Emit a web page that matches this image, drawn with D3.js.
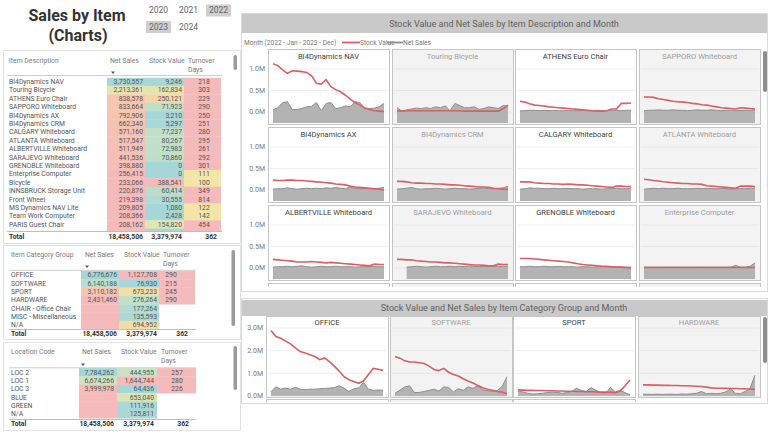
<!DOCTYPE html>
<html><head><meta charset="utf-8">
<script src="https://cdn.jsdelivr.net/npm/d3@7"></script>
<style>
body{margin:0;background:#fff;}
svg{display:block;font-family:Roboto,"Noto Sans",sans-serif;}
</style></head><body><svg id="c" width="768" height="438"></svg>
<script>
// ---------------- DATA ----------------
const years = ["2020","2021","2022","2023","2024"];
const selectedYears = ["2022","2023"];
const months = ["Jan 2022","Feb 2022","Mar 2022","Apr 2022","May 2022","Jun 2022","Jul 2022","Aug 2022","Sep 2022","Oct 2022","Nov 2022","Dec 2022",
                "Jan 2023","Feb 2023","Mar 2023","Apr 2023","May 2023","Jun 2023","Jul 2023","Aug 2023","Sep 2023","Oct 2023","Nov 2023","Dec 2023"];

// Item table
const itemDesc = ["BI4Dynamics NAV","Touring Bicycle","ATHENS Euro Chair","SAPPORO Whiteboard","BI4Dynamics AX","BI4Dynamics CRM","CALGARY Whiteboard","ATLANTA Whiteboard","ALBERTVILLE Whiteboard","SARAJEVO Whiteboard","GRENOBLE Whiteboard","Enterprise Computer","Bicycle","INNSBRUCK Storage Unit","Front Wheel","MS Dynamics NAV Lite","Team Work Computer","PARIS Guest Chair","MS Dynamics CRM Lite"];
const itemNetSales = [3730557,2213361,838578,833664,792906,662340,571160,517547,511949,441536,398880,256415,233066,220876,219398,209805,208366,208162,202774];
const itemStock = [9246,162834,250121,71923,3210,5297,77237,80267,72983,70860,0,0,388541,60414,30555,1080,2428,154820,0];
const itemTurnover = [218,303,229,290,250,251,280,295,261,292,301,111,100,349,814,122,142,454,458];
const itemTotals = [18458506,3379974,362];

// Item Category Group table
const catNames = ["OFFICE","SOFTWARE","SPORT","HARDWARE","CHAIR - Office Chair","MISC - Miscellaneous","N/A"];
const catNetSales = [6776676,6140188,3110182,2431460,null,null,null];
const catStock = [1127708,76930,673233,276264,177264,135593,694952];
const catTurnover = [290,215,245,290,null,null,null];
const catTotals = [18458506,3379974,362];

// Location table
const locNames = ["LOC 2","LOC 1","LOC 3","BLUE","GREEN","N/A"];
const locNetSales = [7784262,6674266,3999978,null,null,null];
const locStock = [444955,1644744,64436,653040,111916,125811];
const locTurnover = [257,280,226,null,null,null];
const locTotals = [18458506,3379974,362];

// Small multiples by item (values in millions)
const itemPanelNames = ["BI4Dynamics NAV","Touring Bicycle","ATHENS Euro Chair","SAPPORO Whiteboard","BI4Dynamics AX","BI4Dynamics CRM","CALGARY Whiteboard","ATLANTA Whiteboard","ALBERTVILLE Whiteboard","SARAJEVO Whiteboard","GRENOBLE Whiteboard","Enterprise Computer","Bicycle","INNSBRUCK Storage Unit","Front Wheel","MS Dynamics NAV Lite"];
const stockNAV = [1.12,1.08,0.98,0.90,0.96,0.95,0.94,0.92,0.84,0.67,0.65,0.75,0.59,0.52,0.47,0.39,0.30,0.22,0.16,0.10,0.06,0.03,0.02,0.01];
const salesNAV = [0.05,0.10,0.22,0.24,0.05,0.06,0.08,0.12,0.13,0.22,0.03,0.20,0.22,0.08,0.10,0.14,0.12,0.24,0.22,0.08,0.08,0.09,0.12,0.20];
const stockTouring = [0.03,0.02,0.03,0.03,0.03,0.03,0.03,0.03,0.03,0.03,0.03,0.03,0.03,0.03,0.02,0.02,0.02,0.02,0.02,0.02,0.02,0.02,0.08,0.16];
const salesTouring = [0.10,0.02,0.05,0.07,0.09,0.08,0.10,0.08,0.12,0.10,0.14,0.03,0.20,0.15,0.10,0.10,0.12,0.06,0.08,0.12,0.10,0.08,0.15,0.14];
const stockAthens = [0.25,0.23,0.19,0.16,0.15,0.14,0.12,0.11,0.10,0.09,0.08,0.07,0.06,0.05,0.04,0.03,0.02,0.02,0.03,0.07,0.07,0.20,0.20,0.21];
const salesAthens = [0.03,0.03,0.04,0.04,0.03,0.04,0.03,0.04,0.03,0.03,0.04,0.03,0.03,0.04,0.03,0.03,0.04,0.03,0.03,0.04,0.04,0.03,0.04,0.04];
const stockSapporo = [0.35,0.35,0.34,0.31,0.29,0.27,0.25,0.24,0.23,0.22,0.20,0.19,0.17,0.16,0.14,0.12,0.10,0.09,0.08,0.07,0.10,0.09,0.08,0.07];
const salesSapporo = [0.03,0.04,0.04,0.05,0.04,0.04,0.05,0.04,0.04,0.03,0.04,0.05,0.04,0.04,0.05,0.04,0.03,0.04,0.04,0.04,0.03,0.04,0.04,0.05];
const stockAX = [0.23,0.22,0.22,0.23,0.23,0.22,0.22,0.21,0.20,0.19,0.18,0.17,0.16,0.14,0.13,0.12,0.09,0.07,0.06,0.05,0.04,0.03,0.02,0.00];
const salesAX = [0.02,0.03,0.03,0.05,0.03,0.02,0.03,0.04,0.03,0.04,0.03,0.05,0.04,0.06,0.04,0.03,0.07,0.04,0.03,0.04,0.03,0.03,0.04,0.06];
const stockCRM = [0.20,0.20,0.19,0.17,0.16,0.16,0.15,0.15,0.14,0.14,0.13,0.12,0.12,0.11,0.10,0.09,0.08,0.07,0.07,0.06,0.04,0.03,0.02,0.01];
const salesCRM = [0.02,0.03,0.04,0.06,0.03,0.02,0.03,0.03,0.04,0.03,0.02,0.03,0.04,0.03,0.03,0.02,0.03,0.04,0.05,0.03,0.03,0.04,0.05,0.09];
const stockCalgary = [0.19,0.19,0.19,0.17,0.16,0.15,0.15,0.14,0.14,0.13,0.14,0.13,0.12,0.12,0.11,0.10,0.09,0.08,0.07,0.06,0.09,0.09,0.08,0.08];
const salesCalgary = [0.02,0.03,0.05,0.04,0.04,0.03,0.03,0.04,0.03,0.03,0.04,0.03,0.03,0.02,0.03,0.03,0.03,0.02,0.03,0.03,0.04,0.03,0.03,0.04];
const stockAtlanta = [0.25,0.24,0.22,0.21,0.19,0.18,0.17,0.16,0.15,0.15,0.14,0.14,0.13,0.10,0.09,0.08,0.07,0.06,0.05,0.04,0.09,0.09,0.09,0.08];
const salesAtlanta = [0.02,0.03,0.04,0.03,0.04,0.03,0.03,0.04,0.03,0.03,0.03,0.04,0.03,0.04,0.03,0.03,0.04,0.03,0.02,0.03,0.03,0.03,0.04,0.04];
const stockAlbertville = [0.20,0.19,0.18,0.17,0.16,0.14,0.14,0.14,0.15,0.14,0.13,0.12,0.13,0.12,0.11,0.10,0.09,0.08,0.07,0.06,0.05,0.09,0.08,0.08];
const salesAlbertville = [0.02,0.03,0.03,0.04,0.03,0.04,0.05,0.03,0.02,0.03,0.04,0.03,0.03,0.04,0.03,0.03,0.03,0.02,0.03,0.03,0.04,0.03,0.03,0.03];
const stockSarajevo = [0.20,0.20,0.19,0.19,0.17,0.16,0.15,0.14,0.14,0.13,0.12,0.12,0.11,0.10,0.09,0.08,0.07,0.07,0.06,0.05,0.05,0.09,0.08,0.08];
const salesSarajevo = [null,null,0.02,0.03,0.04,0.03,0.02,0.03,0.04,0.03,0.03,0.04,0.03,0.04,0.03,0.05,0.04,0.03,0.04,0.04,0.05,0.03,0.04,0.04];
const stockGrenoble = [0.22,0.22,0.22,0.21,0.20,0.19,0.18,0.17,0.16,0.15,0.14,0.12,0.10,0.08,0.07,0.06,0.05,0.04,0.04,0.03,0.02,0.02,0.01,0.00];
const salesGrenoble = [0.03,0.03,0.04,0.03,0.03,0.04,0.03,0.03,0.04,0.03,0.03,0.03,0.02,0.03,0.03,0.02,0.02,0.03,0.02,0.02,0.02,0.02,0.02,0.02];
const stockEnterprise = [0.01,0.01,0.01,0.01,0.01,0.01,0.01,0.01,0.01,0.01,0.01,0.01,0.01,0.01,0.01,0.01,0.01,0.01,0.01,0.01,0.01,0.01,0.01,0.01];
const salesEnterprise = [0.02,0.02,0.02,0.02,0.02,0.02,0.02,0.02,0.02,0.02,0.02,0.02,0.02,0.02,0.02,0.02,0.02,0.02,0.02,0.06,0.02,0.02,0.04,0.12];

// Small multiples by category group (values in millions)
const catPanelNames = ["OFFICE","SOFTWARE","SPORT","HARDWARE","CHAIR - Office Chair","MISC - Miscellaneous","N/A"];
const stockOffice = [2.89,2.62,2.55,2.42,2.30,2.12,1.96,1.90,1.82,1.74,1.60,1.68,1.52,1.32,1.10,0.85,0.72,0.64,0.56,0.66,0.95,1.22,1.18,1.13];
const salesOffice = [0.19,0.41,0.30,0.35,0.30,0.38,0.30,0.28,0.30,0.30,0.32,0.33,0.35,0.37,0.45,0.35,0.20,0.32,0.35,0.60,0.30,0.25,0.26,0.26];
const stockSoftware = [1.74,1.67,1.55,1.50,1.50,1.47,1.43,1.32,1.17,1.12,1.22,1.05,0.95,0.88,0.76,0.66,0.57,0.46,0.36,0.30,0.25,0.20,0.17,0.10];
const salesSoftware = [0.12,0.25,0.40,0.45,0.15,0.16,0.20,0.25,0.30,0.22,0.40,0.38,0.18,0.32,0.25,0.40,0.34,0.45,0.28,0.24,0.20,0.25,0.42,0.85];
const stockSport = [0.27,0.26,0.25,0.25,0.24,0.24,0.23,0.23,0.22,0.22,0.21,0.21,0.20,0.20,0.19,0.19,0.18,0.17,0.17,0.16,0.15,0.22,0.45,0.71];
const salesSport = [0.22,0.18,0.12,0.09,0.10,0.12,0.15,0.17,0.16,0.12,0.15,0.20,0.34,0.25,0.20,0.37,0.25,0.15,0.12,0.37,0.18,0.25,0.15,0.05];
const stockHardware = [0.49,0.49,0.48,0.48,0.47,0.47,0.46,0.46,0.45,0.45,0.44,0.43,0.42,0.39,0.36,0.34,0.34,0.34,0.33,0.33,0.32,0.32,0.31,0.30];
const salesHardware = [0.08,0.08,0.07,0.08,0.07,0.08,0.08,0.07,0.09,0.08,0.10,0.12,0.20,0.10,0.12,0.10,0.12,0.18,0.31,0.12,0.10,0.20,0.35,0.92];

// ---------------- RENDER ----------------
const svg = d3.select("#c");
const palette = ["#a5d6d9","#c8e3c2","#f3e5a5","#f6cba9","#f5babb"]; // low -> high (stock)
const fmt = d3.format(",");
const TS = 6.8; // table font size

// Title
svg.append("text").attr("x",77).attr("y",21).attr("text-anchor","middle")
  .attr("font-size",16).attr("font-weight",700).attr("fill","#333").text("Sales by Item");
svg.append("text").attr("x",78).attr("y",41).attr("text-anchor","middle")
  .attr("font-size",16).attr("font-weight",700).attr("fill","#333").text("(Charts)");

// Year slicer
const yCols = [158.5,188.5,218.5], yRows = [10.5,27];
const ys = svg.append("g").attr("font-size",8.5);
years.forEach((yr,i)=>{
  const cx = yCols[i%3], cy = yRows[Math.floor(i/3)];
  if (selectedYears.includes(yr)) {
    ys.append("rect").attr("x",cx-12.5).attr("y",cy-6).attr("width",25).attr("height",12).attr("fill","#cfcfcf");
  }
  ys.append("text").attr("x",cx).attr("y",cy).attr("dy","0.35em").attr("text-anchor","middle").attr("fill","#666").text(yr);
});

function linScale(vals, reverse){
  const v = vals.filter(d=>d!=null);
  const mn = d3.min(v), mx = d3.max(v);
  const dom = [0,1,2,3,4].map(i=>mn+(mx-mn)*i/4);
  return d3.scaleLinear().domain(dom).range(reverse? palette.slice().reverse(): palette).clamp(true);
}
const turnColor = d3.scaleThreshold().domain([150]).range(["#f3e5a5","#f5babb"]);

let clipN = 0;
function drawTable(cfg, names, net, stock, turn, totals){
  const g = svg.append("g");
  g.append("rect").attr("x",cfg.box[0]+.5).attr("y",cfg.box[1]+.5).attr("width",cfg.box[2]).attr("height",cfg.box[3])
    .attr("fill","#fff").attr("stroke","#e2e2e2");
  const h = g.append("g").attr("font-size",TS).attr("fill","#7a7a7a");
  h.append("text").attr("x",cfg.nameX).attr("y",cfg.hY).text(cfg.title);
  h.append("text").attr("x",cfg.hx[0]).attr("y",cfg.hY).text("Net Sales");
  h.append("text").attr("x",cfg.hx[1]).attr("y",cfg.hY).text("Stock Value");
  h.append("text").attr("x",cfg.hx[2]).attr("y",cfg.hY).text("Turnover");
  h.append("text").attr("x",cfg.hx[2]).attr("y",cfg.hY+9).text("Days");
  g.append("path").attr("d",`M${cfg.arrow[0]-2},${cfg.arrow[1]-1}h4l-2,2.5z`).attr("fill","#555");
  g.append("line").attr("x1",cfg.lineX[0]).attr("x2",cfg.lineX[1]).attr("y1",cfg.hLine).attr("y2",cfg.hLine).attr("stroke","#cfcfcf");
  const id = "tclip"+(clipN++);
  g.append("clipPath").attr("id",id).append("rect").attr("x",0).attr("y",cfg.rowTop).attr("width",240).attr("height",cfg.clipH);
  const body = g.append("g").attr("clip-path",`url(#${id})`);
  const cn = linScale(net,true), cs = linScale(stock,false);
  const mnNet = d3.min(net.filter(d=>d!=null));
  const y = d3.scaleBand().domain(d3.range(names.length)).range([cfg.rowTop, cfg.rowTop+cfg.rowH*names.length]);
  names.forEach((nm,i)=>{
    const top = y(i), bh = y.bandwidth(), cy = top+bh/2;
    body.append("rect").attr("x",cfg.cols[0][0]).attr("y",top).attr("width",cfg.cols[0][1]-cfg.cols[0][0]).attr("height",bh+0.3)
      .attr("fill", cn(net[i]==null? mnNet : net[i]));
    body.append("rect").attr("x",cfg.cols[1][0]).attr("y",top).attr("width",cfg.cols[1][1]-cfg.cols[1][0]).attr("height",bh+0.3)
      .attr("fill", cs(stock[i]));
    if (turn[i]!=null) body.append("rect").attr("x",cfg.cols[2][0]).attr("y",top).attr("width",cfg.cols[2][1]-cfg.cols[2][0]).attr("height",bh+0.3)
      .attr("fill", turnColor(turn[i]));
    if (top + bh > cfg.rowTop + cfg.clipH + 1) return; // row cut off by the scroll area: cells only
    const t = body.append("g").attr("font-size",TS).attr("fill","#555");
    t.append("text").attr("x",cfg.nameX).attr("y",cy).attr("dy","0.35em").text(nm);
    if (net[i]!=null) t.append("text").attr("x",cfg.valX[0]).attr("y",cy).attr("dy","0.35em").attr("text-anchor","end").text(fmt(net[i]));
    t.append("text").attr("x",cfg.valX[1]).attr("y",cy).attr("dy","0.35em").attr("text-anchor","end").text(fmt(stock[i]));
    if (turn[i]!=null) t.append("text").attr("x",cfg.valX[2]).attr("y",cy).attr("dy","0.35em").attr("text-anchor","middle").text(turn[i]);
  });
  g.append("line").attr("x1",cfg.lineX[0]).attr("x2",cfg.lineX[1]).attr("y1",cfg.tLine).attr("y2",cfg.tLine).attr("stroke","#bdbdbd");
  const tt = g.append("g").attr("font-size",TS).attr("font-weight",700).attr("fill","#333");
  tt.append("text").attr("x",cfg.nameX).attr("y",cfg.tY).attr("dy","0.35em").text("Total");
  tt.append("text").attr("x",cfg.valX[0]).attr("y",cfg.tY).attr("dy","0.35em").attr("text-anchor","end").text(fmt(totals[0]));
  tt.append("text").attr("x",cfg.valX[1]).attr("y",cfg.tY).attr("dy","0.35em").attr("text-anchor","end").text(fmt(totals[1]));
  tt.append("text").attr("x",cfg.totTurnX).attr("y",cfg.tY).attr("dy","0.35em").attr("text-anchor","end").text(totals[2]);
  g.append("rect").attr("x",cfg.scroll[0]).attr("y",cfg.scroll[1]).attr("width",3.5).attr("height",cfg.scroll[2]).attr("rx",1.7).attr("fill","#9a9a9a");
}

drawTable({box:[3,50,237,193], title:"Item Description", nameX:9, hY:62.5, hx:[110,149,188], arrow:[113,72.5],
  lineX:[7,222], hLine:75.5, rowTop:77.5, rowH:8.4, clipH:153.5, cols:[[107,145],[145,184],[184,221]], valX:[143,182,204],
  tLine:231.5, tY:237, totTurnX:217, scroll:[233.5,55,15]}, itemDesc, itemNetSales, itemStock, itemTurnover, itemTotals);
drawTable({box:[3,245,237,94], title:"Item Category Group", nameX:11, hY:256.5, hx:[85,124,163], arrow:[87,266.5],
  lineX:[9,196], hLine:270.3, rowTop:270.8, rowH:8.35, clipH:60, cols:[[81,119],[119,159],[159,195]], valX:[117,157,171],
  tLine:329.5, tY:333.5, totTurnX:188, scroll:[231.5,250,76]}, catNames, catNetSales, catStock, catTurnover, catTotals);
drawTable({box:[3,342,237,88], title:"Location Code", nameX:11, hY:353.5, hx:[82,121,161], arrow:[83,364.5],
  lineX:[9,196], hLine:367.8, rowTop:368.1, rowH:8.35, clipH:51, cols:[[79,117],[117,157],[157,196]], valX:[114,154,177],
  tLine:419.5, tY:424, totTurnX:189, scroll:[233.5,346,44]}, locNames, locNetSales, locStock, locTurnover, locTotals);

// ---------------- small multiples ----------------
function drawMultiples(cfg, panels){
  const g = svg.append("g");
  g.append("rect").attr("x",cfg.box[0]+.5).attr("y",cfg.box[1]+.5).attr("width",cfg.box[2]).attr("height",cfg.box[3])
    .attr("fill","#fff").attr("stroke","#dadada");
  g.append("rect").attr("x",cfg.box[0]+1).attr("y",cfg.bar[0]).attr("width",cfg.box[2]-1).attr("height",cfg.bar[1]).attr("fill","#c9c9c9");
  g.append("text").attr("x",cfg.box[0]+cfg.box[2]/2).attr("y",cfg.bar[0]+cfg.bar[1]/2).attr("dy","0.35em")
    .attr("text-anchor","middle").attr("font-size",9).attr("fill","#606060").text(cfg.title);
  const id = "mclip"+(clipN++);
  g.append("clipPath").attr("id",id).append("rect").attr("x",cfg.box[0]).attr("y",cfg.clip[0]).attr("width",cfg.box[2]).attr("height",cfg.clip[1]-cfg.clip[0]);
  const body = g.append("g").attr("clip-path",`url(#${id})`);
  panels.forEach((p,i)=>{
    const col = i%4, row = Math.floor(i/4);
    const x0 = cfg.colX[col], y0 = cfg.rowY[row];
    const visible = y0 + 20 < cfg.clip[1];
    const odd = col%2===1;
    body.append("rect").attr("x",x0+.5).attr("y",y0+.5).attr("width",cfg.pw).attr("height",cfg.ph)
      .attr("fill",odd?"#f3f3f3":"#fff").attr("stroke","#c6c6c6");
    if (!visible) return; // row scrolled out of view: only the frame's top edge shows
    const x = d3.scalePoint().domain(months).range([x0+5, x0+cfg.pw-5]);
    const y = d3.scaleLinear().domain(cfg.yDomain).range([y0+cfg.yRange[0], y0+cfg.yRange[1]]);
    cfg.ticks.forEach(t=>{
      body.append("line").attr("x1",x0+2).attr("x2",x0+cfg.pw-1).attr("y1",y(t)).attr("y2",y(t)).attr("stroke",odd?"#e6e6e6":"#efefef");
      if (col===0) body.append("text").attr("x",x0-3).attr("y",y(t)).attr("dy","0.35em").attr("text-anchor","end")
        .attr("font-size",7).attr("fill","#7a7a7a").text(d3.format(".1f")(t)+"M");
    });
    body.append("text").attr("x",x0+cfg.pw/2).attr("y",y0+cfg.titleDy).attr("text-anchor","middle")
      .attr("font-size",7.6).attr("fill",odd?"#9d9d9d":"#404040").text(p.name);
    if (p.sales){
      const area = d3.area().defined(d=>d!=null).x((d,j)=>x(months[j])).y0(y(cfg.yDomain[0])).y1(d=>y(d));
      body.append("path").datum(p.sales).attr("d",area).attr("fill","#b3b3b3");
      const ln = d3.line().defined(d=>d!=null).x((d,j)=>x(months[j])).y(d=>y(d));
      body.append("path").datum(p.sales).attr("d",ln).attr("fill","none").attr("stroke","#8e8e8e").attr("stroke-width",1);
    }
    if (p.stock){
      const ln = d3.line().x((d,j)=>x(months[j])).y(d=>y(d));
      body.append("path").datum(p.stock).attr("d",ln).attr("fill","none").attr("stroke","#de5d62").attr("stroke-width",1.6);
    }
  });
  g.append("rect").attr("x",763).attr("y",cfg.scroll[0]).attr("width",4).attr("height",cfg.scroll[1]).attr("rx",2).attr("fill","#8c8c8c");
}

const itemStocks = [stockNAV,stockTouring,stockAthens,stockSapporo,stockAX,stockCRM,stockCalgary,stockAtlanta,stockAlbertville,stockSarajevo,stockGrenoble,stockEnterprise];
const itemSales = [salesNAV,salesTouring,salesAthens,salesSapporo,salesAX,salesCRM,salesCalgary,salesAtlanta,salesAlbertville,salesSarajevo,salesGrenoble,salesEnterprise];
drawMultiples({box:[241,13,526,278], bar:[14,19], title:"Stock Value and Net Sales by Item Description and Month",
  clip:[14,287], colX:[268,392,515,639], rowY:[49,127,205,283], pw:121, ph:75, titleDy:10,
  yDomain:[-0.256,1.14], yRange:[74,14], ticks:[0,0.5,1.0], scroll:[51,41]},
  itemPanelNames.map((n,i)=>({name:n, stock:itemStocks[i], sales:itemSales[i]})));

// legend
const lg = svg.append("g").attr("font-size",6.6).attr("fill","#777");
lg.append("text").attr("x",244).attr("y",42.5).attr("dy","0.35em").text("Month (2022 - Jan - 2023 - Dec)");
lg.append("line").attr("x1",342).attr("x2",360).attr("y1",42.5).attr("y2",42.5).attr("stroke","#de5d62").attr("stroke-width",1.8);
lg.append("text").attr("x",360).attr("y",42.5).attr("dy","0.35em").text("Stock Value");
lg.append("line").attr("x1",387).attr("x2",403).attr("y1",42.5).attr("y2",42.5).attr("stroke","#8e8e8e").attr("stroke-width",1.8);
lg.append("text").attr("x",403).attr("y",42.5).attr("dy","0.35em").text("Net Sales");

const catStocks = [stockOffice,stockSoftware,stockSport,stockHardware];
const catSales = [salesOffice,salesSoftware,salesSport,salesHardware];
drawMultiples({box:[241,298,526,105], bar:[300,16], title:"Stock Value and Net Sales by Item Category Group and Month",
  clip:[300,402], colX:[266,390,513,638], rowY:[316,399], pw:122, ph:81, titleDy:8.5,
  yDomain:[0,3.0], yRange:[80,12], ticks:[0,1,2,3], scroll:[317,46]},
  catPanelNames.map((n,i)=>({name:n, stock:catStocks[i], sales:catSales[i]})));
</script></body></html>
